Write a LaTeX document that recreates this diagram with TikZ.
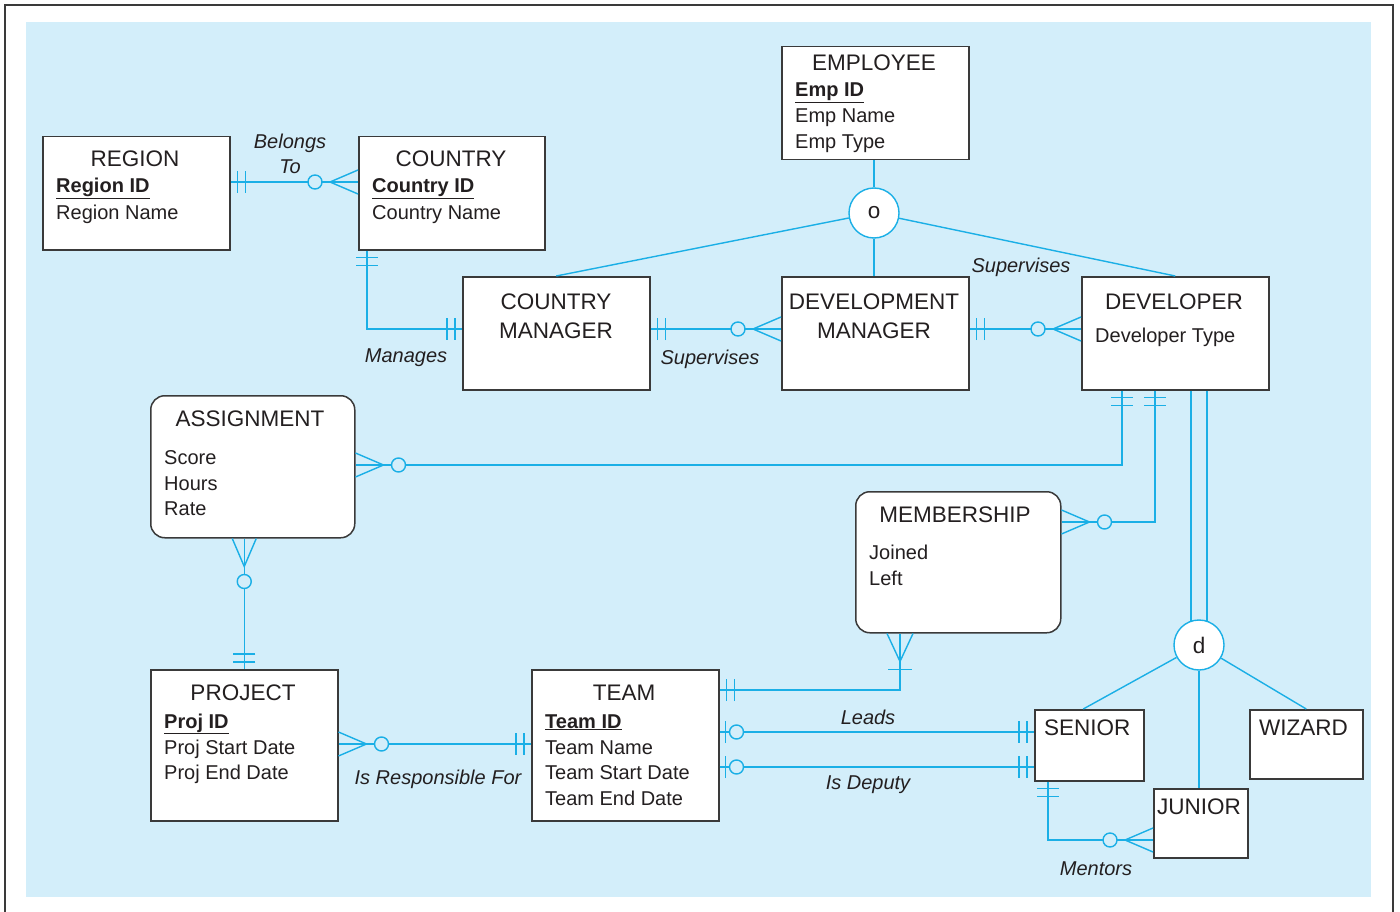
\documentclass[tikz,border=0pt]{standalone}
\usepackage{fontspec}
\setmainfont{Liberation Sans}
\usetikzlibrary{calc}
\definecolor{bgblue}{HTML}{D3EEFA}
\definecolor{lncol}{HTML}{1AAFE6}
\definecolor{bdcol}{HTML}{3A3A3A}
\definecolor{txcol}{HTML}{231F20}
\newcommand\ttlfont{\fontsize{22.5}{27}\selectfont}
\newcommand\attfont{\fontsize{20}{24}\selectfont}
\newcommand\lblfont{\fontsize{20}{24}\selectfont\itshape}
\newcommand\keyattr[1]{\textbf{\underline{#1}}}
\tikzset{
  ent/.style={draw=bdcol, fill=white, line width=1.5pt, inner sep=0pt, anchor=north west},
  rent/.style={ent, rounded corners=14pt},
  ttl/.style={inner sep=0pt, anchor=base, text=txcol, font=\ttlfont},
  att/.style={inner sep=0pt, anchor=base west, text=txcol, font=\attfont},
  lbl/.style={inner sep=0pt, anchor=base, text=txcol, font=\lblfont},
  cn/.style={draw=lncol, line width=1.4pt},
  cnbar/.style={draw=lncol, line width=1.8pt},
  gcircle/.style={circle, draw=lncol, fill=white, line width=1.4pt, minimum size=50pt, inner sep=0pt, text=txcol, font=\ttlfont},
  pics/crowopt/.style={code={
    \draw[cn] (0,12) -- (28,0) -- (0,-12);
    \draw[cn, fill=bgblue] (43,0) circle[radius=7];
  }},
  pics/crowbar/.style={code={
    \draw[cn] (0,13) -- (28,0) -- (0,-13);
    \draw[cnbar] (36,12) -- (36,-12);
  }},
  pics/twobar/.style={code={
    \draw[cnbar] (7,11) -- (7,-11);
    \draw[cnbar] (15,11) -- (15,-11);
  }},
  pics/baropt/.style={code={
    \draw[cnbar] (6,11) -- (6,-11);
    \draw[cn, fill=bgblue] (17,0) circle[radius=7];
  }},
}
\begin{document}
\begin{tikzpicture}[x=1pt,y=-1pt]
\useasboundingbox (0,0) rectangle (1400,912);
% frame and background
\draw[bdcol, line width=2pt] (5,912) -- (5,5) -- (1393,5) -- (1393,912);
\fill[bgblue] (26,22) rectangle (1371,897);

% helper coordinates
\coordinate (yrc) at (0,182);
\coordinate (xcm) at (367,0);
\coordinate (ysup) at (0,329);
\coordinate (xasg) at (1122,0);
\coordinate (yasg) at (0,465);
\coordinate (xmem) at (1155,0);
\coordinate (ymem) at (0,522);
\coordinate (xmt) at (900,0);
\coordinate (ymt) at (0,690);
\coordinate (ypt) at (0,744);
\coordinate (ylead) at (0,732);
\coordinate (ydep) at (0,767);
\coordinate (xmen) at (1048,0);
\coordinate (ymen) at (0,840);

% entities
\node[ent, minimum width=187pt, minimum height=113pt] (employee) at (781,46) {};
\node[ent, minimum width=187pt, minimum height=113pt] (region) at (42,136) {};
\node[ent, minimum width=186pt, minimum height=113pt] (country) at (358,136) {};
\node[ent, minimum width=187pt, minimum height=113pt] (cm) at (462,276) {};
\node[ent, minimum width=187pt, minimum height=113pt] (dm) at (781,276) {};
\node[ent, minimum width=187pt, minimum height=113pt] (dev) at (1081,276) {};
\node[rent, minimum width=204pt, minimum height=142pt] (asg) at (150,395) {};
\node[rent, minimum width=205pt, minimum height=141pt] (mem) at (855,491) {};
\node[ent, minimum width=187pt, minimum height=151pt] (project) at (150,669) {};
\node[ent, minimum width=187pt, minimum height=151pt] (team) at (531,669) {};
\node[ent, minimum width=109pt, minimum height=71pt] (senior) at (1034,709) {};
\node[ent, minimum width=113pt, minimum height=69pt] (wizard) at (1249,709) {};
\node[ent, minimum width=94pt, minimum height=69pt] (junior) at (1153,788) {};

% circles
\node[gcircle] (o) at (874,213) {o};
\node[gcircle] (d) at (1199,645) {d};

% texts
\node[ttl] (employee-t) at (874,71) {EMPLOYEE};
\node[att] (employee-a1) at (795,97) {\keyattr{Emp ID}};
\node[att] (employee-a2) at (795,123) {Emp Name};
\node[att] (employee-a3) at (795,149) {Emp Type};

\node[ttl] (region-t) at (135,167) {REGION};
\node[att] (region-a1) at (56,193) {\keyattr{Region ID}};
\node[att] (region-a2) at (56,219) {Region Name};

\node[ttl] (country-t) at (451,167) {COUNTRY};
\node[att] (country-a1) at (372,193) {\keyattr{Country ID}};
\node[att] (country-a2) at (372,219) {Country Name};

\node[ttl] (cm-t1) at (556,309) {COUNTRY};
\node[ttl] (cm-t2) at (556,338) {MANAGER};

\node[ttl] (dm-t1) at (874,309) {DEVELOPMENT};
\node[ttl] (dm-t2) at (874,338) {MANAGER};

\node[ttl] (dev-t) at (1174,309) {DEVELOPER};
\node[att] (dev-a1) at (1095,342) {Developer Type};

\node[ttl] (asg-t) at (250,426) {ASSIGNMENT};
\node[att] (asg-a1) at (164,464) {Score};
\node[att] (asg-a2) at (164,490) {Hours};
\node[att] (asg-a3) at (164,515) {Rate};

\node[ttl] (mem-t) at (955,522) {MEMBERSHIP};
\node[att] (mem-a1) at (869,559) {Joined};
\node[att] (mem-a2) at (869,585) {Left};

\node[ttl] (project-t) at (243,700) {PROJECT};
\node[att] (project-a1) at (164,728) {\keyattr{Proj ID}};
\node[att] (project-a2) at (164,754) {Proj Start Date};
\node[att] (project-a3) at (164,779) {Proj End Date};

\node[ttl] (team-t) at (624,700) {TEAM};
\node[att] (team-a1) at (545,728) {\keyattr{Team ID}};
\node[att] (team-a2) at (545,754) {Team Name};
\node[att] (team-a3) at (545,779) {Team Start Date};
\node[att] (team-a4) at (545,805) {Team End Date};

\node[ttl, anchor=base west] (senior-t) at (1044,735) {SENIOR};
\node[ttl, anchor=base west] (wizard-t) at (1259,735) {WIZARD};
\node[ttl, anchor=base west] (junior-t) at (1157,814) {JUNIOR};

% relationship labels
\node[lbl] (l-belongs1) at (290,149) {Belongs};
\node[lbl] (l-belongs2) at (290,174) {To};
\node[lbl] (l-manages) at (406,362) {Manages};
\node[lbl] (l-sup1) at (710,364) {Supervises};
\node[lbl] (l-sup2) at (1021,272) {Supervises};
\node[lbl] (l-resp) at (438,784) {Is Responsible For};
\node[lbl] (l-leads) at (868,724) {Leads};
\node[lbl] (l-dep) at (868,789) {Is Deputy};
\node[lbl] (l-mentors) at (1096,875) {Mentors};

% supertype links
\draw[cn] (o.north |- employee.south) -- (o.north);
\draw[cn] (o) -- (cm.north);
\draw[cn] (o.south) -- (o.south |- dm.north);
\draw[cn] (o) -- (dev.north);
\draw[cn] (dev.south -| d.108) -- (d.108);
\draw[cn] (dev.south -| d.72) -- (d.72);
\draw[cn] (d) -- ($(senior.north)+(-6,0)$);
\draw[cn] (d) -- (wizard.north);
\draw[cn] (d.south) -- (d.south |- junior.north);

% relationships
\draw[cn] (region.east |- yrc) -- (country.west |- yrc);
\pic at (region.east |- yrc) {twobar};
\pic[rotate=180] at (country.west |- yrc) {crowopt};

\draw[cn] (country.south -| xcm) |- (cm.west |- ysup);
\pic[rotate=-90] at (country.south -| xcm) {twobar};
\pic[rotate=180] at (cm.west |- ysup) {twobar};

\draw[cn] (cm.east |- ysup) -- (dm.west |- ysup);
\pic at (cm.east |- ysup) {twobar};
\pic[rotate=180] at (dm.west |- ysup) {crowopt};

\draw[cn] (dm.east |- ysup) -- (dev.west |- ysup);
\pic at (dm.east |- ysup) {twobar};
\pic[rotate=180] at (dev.west |- ysup) {crowopt};

\draw[cn] (dev.south -| xasg) |- (asg.east |- yasg);
\pic[rotate=-90] at (dev.south -| xasg) {twobar};
\pic at (asg.east |- yasg) {crowopt};

\draw[cn] (dev.south -| xmem) |- (mem.east |- ymem);
\pic[rotate=-90] at (dev.south -| xmem) {twobar};
\pic at (mem.east |- ymem) {crowopt};

\draw[cn] (asg.south -| project.north) -- (project.north);
\pic[rotate=-90] at (asg.south -| project.north) {crowopt};
\pic[rotate=90] at (project.north) {twobar};

\draw[cn] (mem.south -| xmt) |- (team.east |- ymt);
\pic[rotate=-90] at (mem.south -| xmt) {crowbar};
\pic at (team.east |- ymt) {twobar};

\draw[cn] (project.east |- ypt) -- (team.west |- ypt);
\pic at (project.east |- ypt) {crowopt};
\pic[rotate=180] at (team.west |- ypt) {twobar};

\draw[cn] (team.east |- ylead) -- (senior.west |- ylead);
\pic at (team.east |- ylead) {baropt};
\pic[rotate=180] at (senior.west |- ylead) {twobar};

\draw[cn] (team.east |- ydep) -- (senior.west |- ydep);
\pic at (team.east |- ydep) {baropt};
\pic[rotate=180] at (senior.west |- ydep) {twobar};

\draw[cn] (senior.south -| xmen) |- (junior.west |- ymen);
\pic[rotate=-90] at (senior.south -| xmen) {twobar};
\pic[rotate=180] at (junior.west |- ymen) {crowopt};
\end{tikzpicture}
\end{document}
